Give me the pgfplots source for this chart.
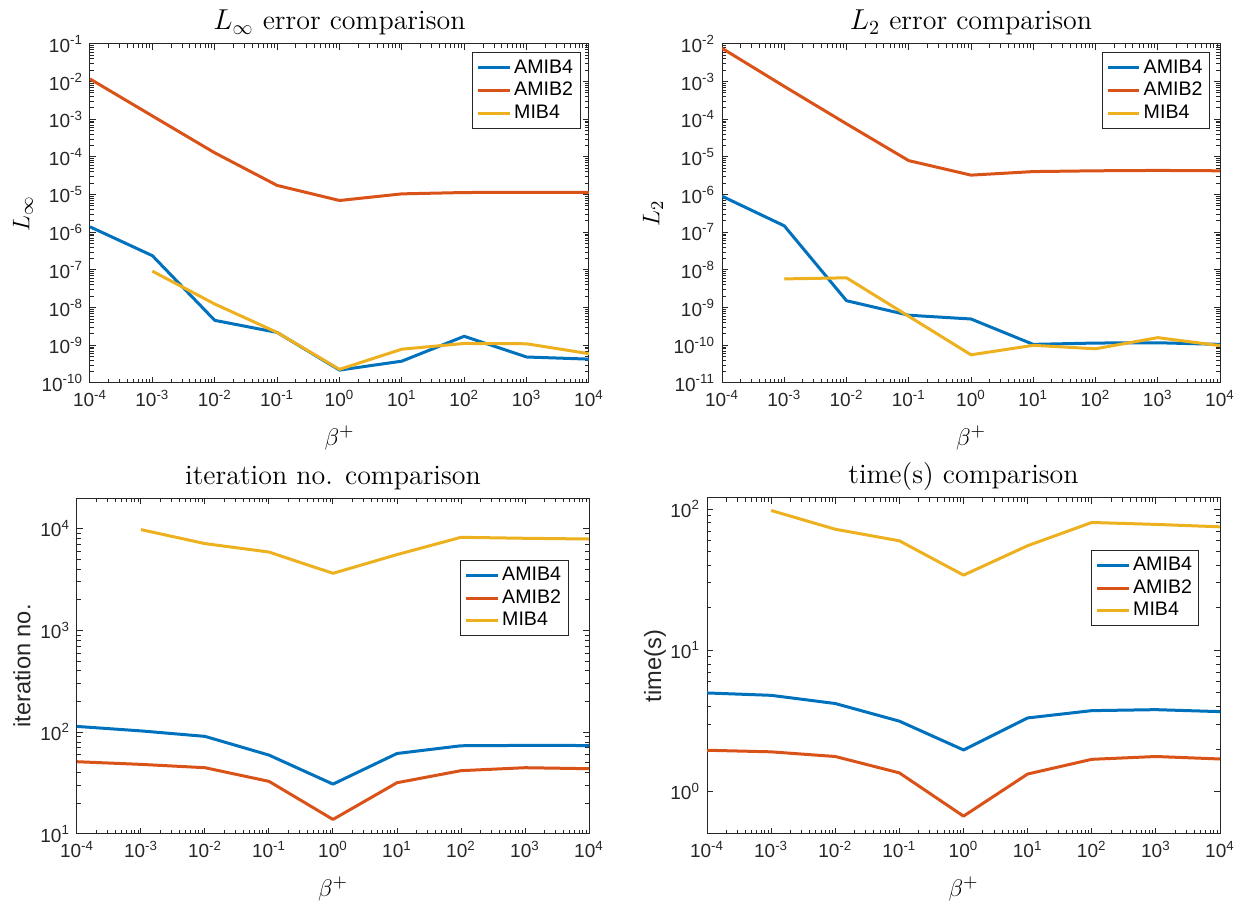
\documentclass[border=0pt]{standalone}
\usepackage{fontspec}
\usepackage{pgfplots}
\pgfplotsset{compat=1.18}
\newfontfamily\arial{Liberation Sans}
\definecolor{mblue}{rgb}{0,0.447,0.741}
\definecolor{mred}{rgb}{0.85,0.325,0.098}
\definecolor{myel}{rgb}{0.929,0.694,0.125}
\definecolor{axgray}{rgb}{0.15,0.15,0.15}
\newcommand{\tp}[1]{10\textsuperscript{#1}}
\pgfplotsset{
  legend image code/.code={\draw[#1, line width=1.5pt] (0cm,0cm) -- (0.55cm,0cm);},
}
\pgfplotsset{
  mstyle/.style={
    scale only axis,
    xmin=1e-4, xmax=1e4,
    xtick={1e-4,1e-3,1e-2,1e-1,1,1e1,1e2,1e3,1e4},
    xticklabels={\tp{-4},\tp{-3},\tp{-2},\tp{-1},\tp{0},\tp{1},\tp{2},\tp{3},\tp{4}},
    tick align=inside,
    major tick length=2.8pt, minor tick length=1.8pt,
    axis line style={axgray, line width=0.5pt},
    every tick/.style={axgray, line width=0.5pt},
    tick label style={font=\arial\fontsize{9.5}{11}\selectfont, text=axgray},
    title style={font=\fontsize{14}{16}\selectfont, at={(0.5,1)}, anchor=base, yshift=1pt},
    xlabel={$\beta^+$},
    xlabel style={font=\fontsize{12.5}{14}\selectfont, at={(axis description cs:0.5,0)}, anchor=center, yshift=-27.5pt},
    legend style={font=\arial\fontsize{9.8}{11}\selectfont, draw=axgray, line width=0.5pt, fill=white,
      nodes={inner sep=1.5pt}, row sep=0pt, inner xsep=2pt, inner ysep=2pt},
    legend cell align=left,
    every axis plot/.append style={line width=1.5pt, line join=round},
  }
}
\begin{document}
\begin{tikzpicture}
\useasboundingbox (0,0) rectangle (618.5pt,452pt);
% Panel 1
\begin{loglogaxis}[mstyle, at={(45pt,260.5pt)}, anchor=south west, width=249.5pt, height=169.5pt,
  ymin=1e-10, ymax=1e-1,
  ytick={1e-10,1e-9,1e-8,1e-7,1e-6,1e-5,1e-4,1e-3,1e-2,1e-1},
  yticklabels={\tp{-10},\tp{-9},\tp{-8},\tp{-7},\tp{-6},\tp{-5},\tp{-4},\tp{-3},\tp{-2},\tp{-1}},
  title={$L_\infty$ error comparison},
  ylabel={$L_\infty$},
  ylabel style={font=\fontsize{12.5}{14}\selectfont, at={([xshift=-33.5pt]axis description cs:0,0.5)}, anchor=center},
  legend style={at={(0.983,0.976)}, anchor=north east}]
\addplot[mblue] coordinates {(1e-4,1.40e-6) (1e-3,2.4e-7) (1e-2,4.6e-9) (1e-1,2.2e-9) (1,2.2e-10) (1e1,3.8e-10) (1e2,1.74e-9) (1e3,4.9e-10) (1e4,4.3e-10)};
\addplot[mred] coordinates {(1e-4,1.18e-2) (1e-3,1.23e-3) (1e-2,1.29e-4) (1e-1,1.76e-5) (1,7.0e-6) (1e1,1.05e-5) (1e2,1.14e-5) (1e3,1.15e-5) (1e4,1.15e-5)};
\addplot[myel] coordinates {(1e-3,9.3e-8) (1e-2,1.25e-8) (1e-1,2.2e-9) (1,2.3e-10) (1e1,7.9e-10) (1e2,1.12e-9) (1e3,1.1e-9) (1e4,6.0e-10)};
\legend{AMIB4,AMIB2,MIB4}
\end{loglogaxis}
% Panel 2
\begin{loglogaxis}[mstyle, at={(361pt,260.5pt)}, anchor=south west, width=249pt, height=169.5pt,
  ymin=1e-11, ymax=1e-2,
  ytick={1e-11,1e-10,1e-9,1e-8,1e-7,1e-6,1e-5,1e-4,1e-3,1e-2},
  yticklabels={\tp{-11},\tp{-10},\tp{-9},\tp{-8},\tp{-7},\tp{-6},\tp{-5},\tp{-4},\tp{-3},\tp{-2}},
  title={$L_2$ error comparison},
  ylabel={$L_2$},
  ylabel style={font=\fontsize{12.5}{14}\selectfont, at={([xshift=-34.5pt]axis description cs:0,0.5)}, anchor=center},
  legend style={at={(0.98,0.976)}, anchor=north east}]
\addplot[mblue] coordinates {(1e-4,9.1e-7) (1e-3,1.49e-7) (1e-2,1.53e-9) (1e-1,6.3e-10) (1,5.0e-10) (1e1,1.06e-10) (1e2,1.15e-10) (1e3,1.17e-10) (1e4,1.06e-10)};
\addplot[mred] coordinates {(1e-4,7.7e-3) (1e-3,7.5e-4) (1e-2,7.6e-5) (1e-1,8.0e-6) (1,3.3e-6) (1e1,4.1e-6) (1e2,4.3e-6) (1e3,4.4e-6) (1e4,4.3e-6)};
\addplot[myel] coordinates {(1e-3,5.8e-9) (1e-2,6.2e-9) (1e-1,5.9e-10) (1,5.6e-11) (1e1,1.0e-10) (1e2,8.1e-11) (1e3,1.6e-10) (1e4,9.8e-11)};
\legend{AMIB4,AMIB2,MIB4}
\end{loglogaxis}
% Panel 3
\begin{loglogaxis}[mstyle, at={(38.5pt,35pt)}, anchor=south west, width=256pt, height=168pt,
  ymin=10, ymax=2e4,
  ytick={10,100,1000,10000},
  yticklabels={\tp{1},\tp{2},\tp{3},\tp{4}},
  title={iteration no. comparison},
  ylabel={iteration no.},
  ylabel style={font=\arial\fontsize{11.8}{14}\selectfont, text=axgray, at={([xshift=-27.5pt]axis description cs:0,0.5)}, anchor=center},
  legend style={at={(0.96,0.816)}, anchor=north east}]
\addplot[mblue] coordinates {(1e-4,114) (1e-3,103) (1e-2,91) (1e-1,59.6) (1,30.9) (1e1,61.8) (1e2,73.6) (1e3,74.2) (1e4,74)};
\addplot[mred] coordinates {(1e-4,51.3) (1e-3,48.3) (1e-2,44.8) (1e-1,32.9) (1,13.9) (1e1,31.9) (1e2,41.9) (1e3,44.8) (1e4,43.8)};
\addplot[myel] coordinates {(1e-3,9780) (1e-2,7130) (1e-1,5890) (1,3640) (1e1,5560) (1e2,8220) (1e3,8040) (1e4,7910)};
\legend{AMIB4,AMIB2,MIB4}
\end{loglogaxis}
% Panel 4
\begin{loglogaxis}[mstyle, at={(353.5pt,35pt)}, anchor=south west, width=256.5pt, height=168pt,
  ymin=0.5, ymax=120,
  ytick={1,10,100},
  yticklabels={\tp{0},\tp{1},\tp{2}},
  title={time(s) comparison},
  ylabel={time(s)},
  ylabel style={font=\arial\fontsize{11.8}{14}\selectfont, text=axgray, at={([xshift=-26pt]axis description cs:0,0.5)}, anchor=center},
  legend style={at={(0.96,0.846)}, anchor=north east}]
\addplot[mblue] coordinates {(1e-4,4.99) (1e-3,4.8) (1e-2,4.2) (1e-1,3.15) (1,1.97) (1e1,3.32) (1e2,3.74) (1e3,3.8) (1e4,3.68)};
\addplot[mred] coordinates {(1e-4,1.96) (1e-3,1.91) (1e-2,1.77) (1e-1,1.355) (1,0.669) (1e1,1.33) (1e2,1.69) (1e3,1.77) (1e4,1.70)};
\addplot[myel] coordinates {(1e-3,97.9) (1e-2,72.1) (1e-1,59.7) (1,34.1) (1e1,55.1) (1e2,80.5) (1e3,78) (1e4,75)};
\legend{AMIB4,AMIB2,MIB4}
\end{loglogaxis}
\end{tikzpicture}
\end{document}
